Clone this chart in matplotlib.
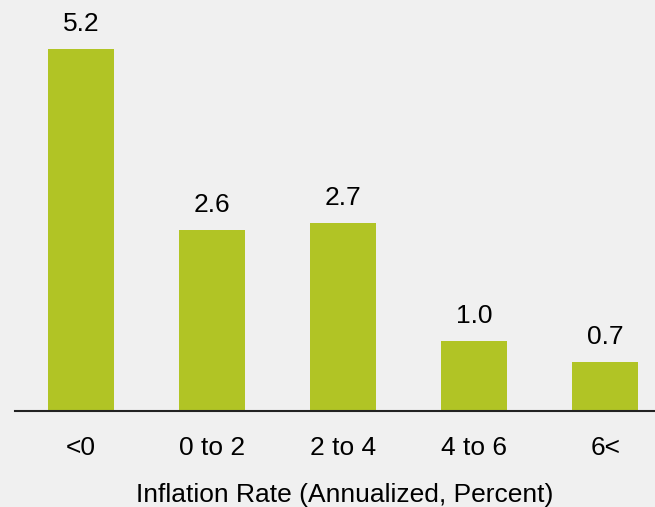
import matplotlib.pyplot as plt

categories = ['<0', '0 to 2', '2 to 4', '4 to 6', '6<']
values = [5.2, 2.6, 2.7, 1.0, 0.7]
value_labels = ['5.2', '2.6', '2.7', '1.0', '0.7']

plt.rcParams['font.family'] = ['Liberation Sans', 'DejaVu Sans']
bg = '#f0f0f0'
bar_color = '#b1c425'

fig = plt.figure(figsize=(6.55, 5.07), dpi=100, facecolor=bg)
ax = fig.add_axes([15 / 655, 96 / 507, 640 / 655, 411 / 507], facecolor=bg)

x = list(range(len(categories)))
bars = ax.bar(x, values, width=0.504, color=bar_color)

for b, lab in zip(bars, value_labels):
    ax.annotate(lab, (b.get_x() + b.get_width() / 2, b.get_height()),
                xytext=(0, 9.5), textcoords='offset points',
                ha='center', va='bottom', fontsize=19)

ax.set_xlim(-0.504, 4.38)
ax.set_ylim(0, 5.905)
ax.set_xticks(x)
ax.set_xticklabels(categories, fontsize=19)
ax.tick_params(axis='x', length=0, pad=18)
ax.set_yticks([])
for s in ['top', 'right', 'left']:
    ax.spines[s].set_visible(False)
ax.spines['bottom'].set_linewidth(1.5)
ax.spines['bottom'].set_color('#222222')

fig.text(345 / 655, 5 / 507, 'Inflation Rate (Annualized, Percent)', ha='center',
         va='baseline', fontsize=19)

fig.savefig('out.png', dpi=100, facecolor=bg)
